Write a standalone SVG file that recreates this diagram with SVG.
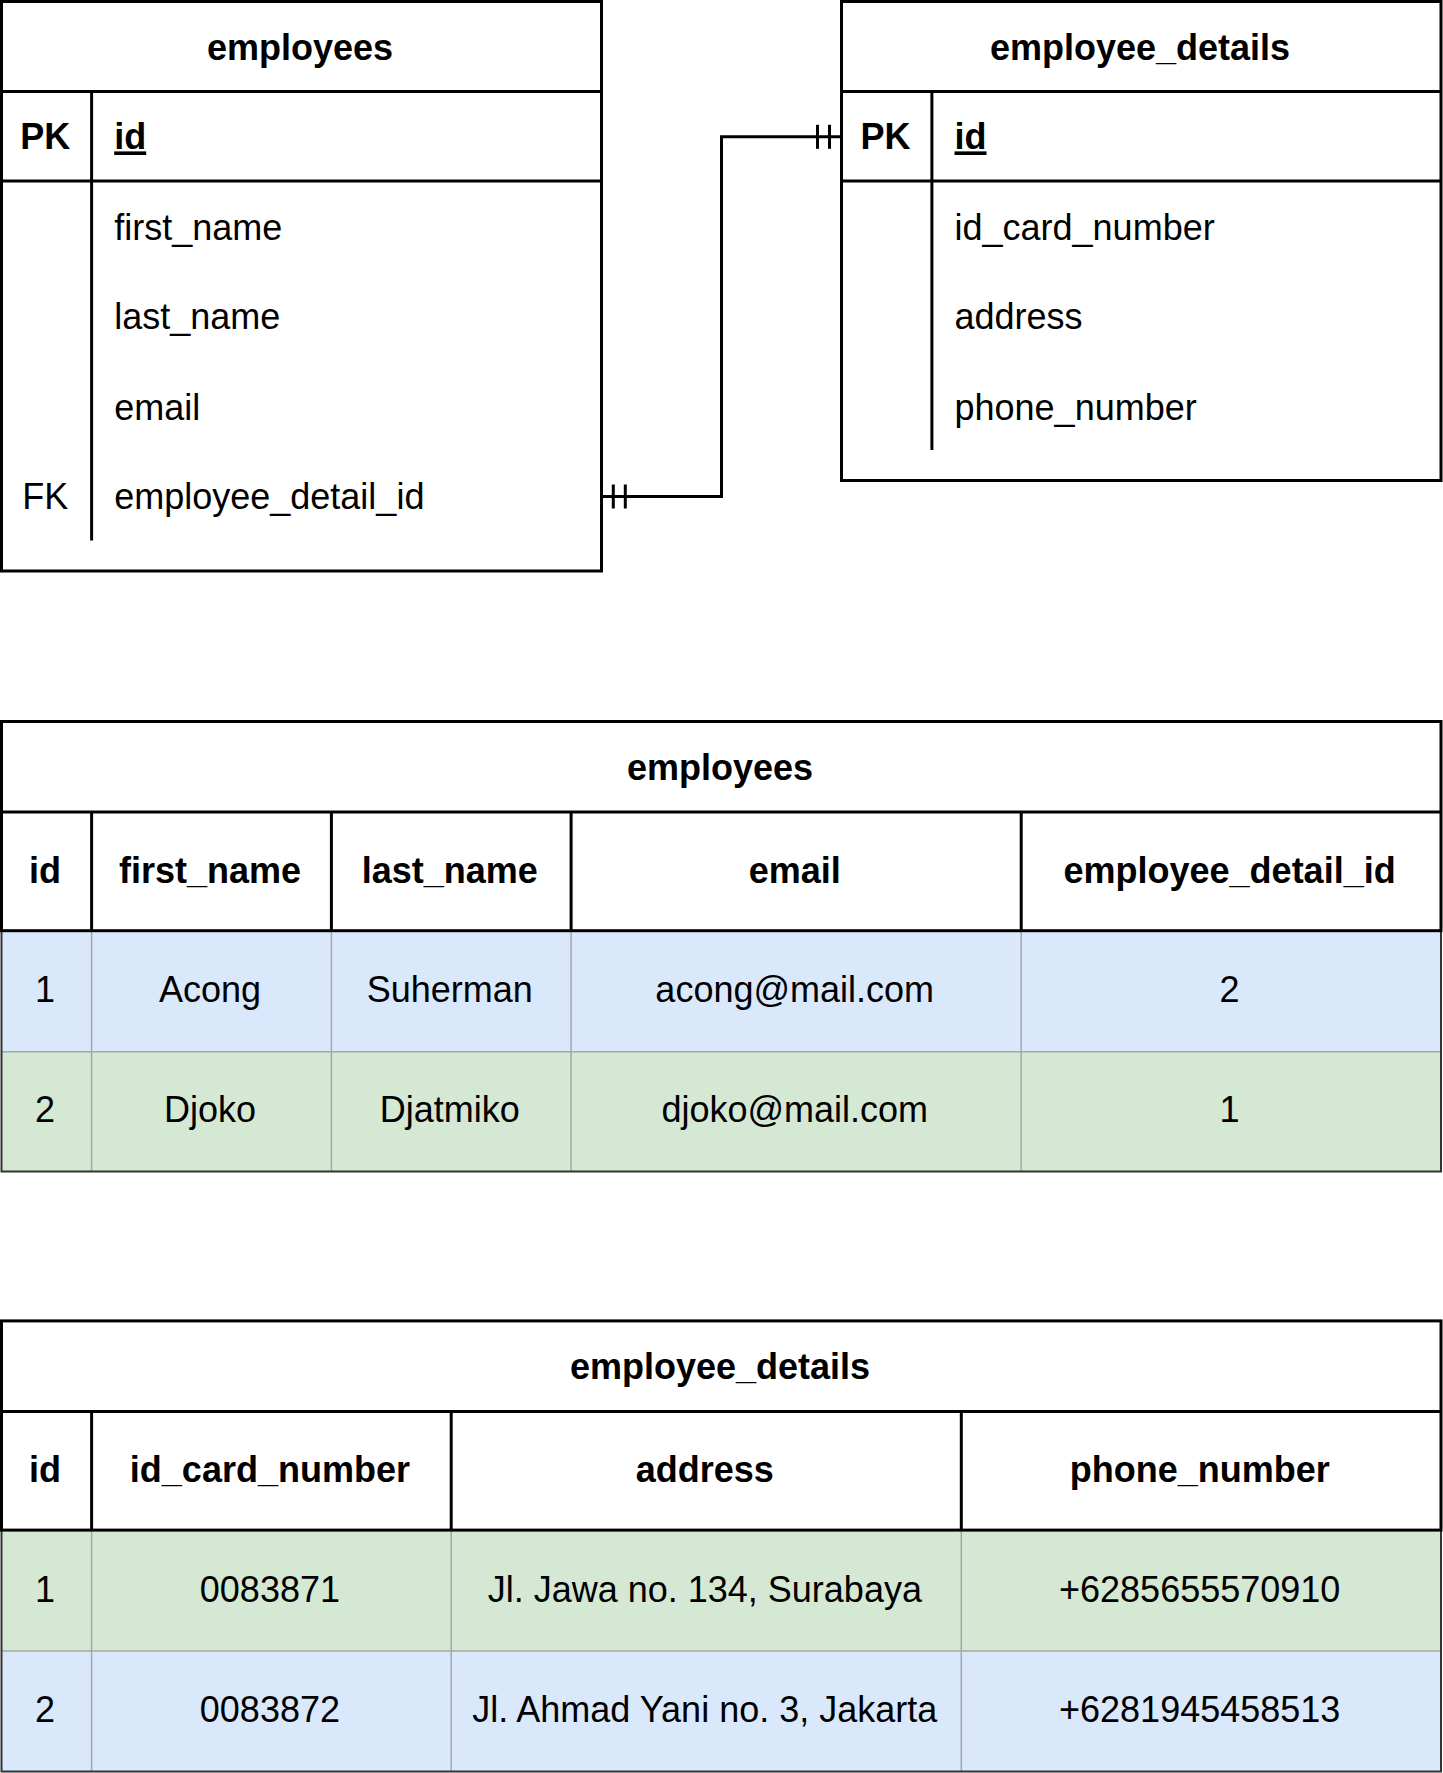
<svg xmlns="http://www.w3.org/2000/svg" width="1443" height="1773" viewBox="0 0 1443 1773">
<style>
text{font-family:"Liberation Sans",Arial,sans-serif;font-size:36px;fill:#000}
.b{font-weight:bold}
.c{text-anchor:middle}
.u{text-decoration:underline}
.box{fill:#fff;stroke:#000;stroke-width:3}
.ln{stroke:#000;stroke-width:3;fill:none}
.blue{fill:#dae8fc}
.green{fill:#d5e8d4}
.cell{stroke:#a6a6a6;stroke-width:1.5;fill:none}
.edge{stroke:#333;stroke-width:2;fill:none}
</style>

<g id="er-employees">
<rect class="box" x="1.5" y="1.5" width="600" height="569.5"/>
<line class="ln" x1="1.5" y1="91.6" x2="601.5" y2="91.6"/>
<line class="ln" x1="1.5" y1="181" x2="601.5" y2="181"/>
<line class="ln" x1="91.6" y1="91.6" x2="91.6" y2="540.6"/>
<text class="b c" x="300" y="60">employees</text>
<text class="b c" x="45.2" y="149.4">PK</text>
<text class="b u" x="114.2" y="149.4">id</text>
<text x="114.2" y="240">first_name</text>
<text x="114.2" y="329.3">last_name</text>
<text x="114.2" y="419.7">email</text>
<text class="c" x="45.2" y="509.1">FK</text>
<text x="114.2" y="509.1">employee_detail_id</text>
</g>

<g id="er-employee-details">
<rect class="box" x="841.5" y="1.5" width="599.5" height="479"/>
<line class="ln" x1="841.5" y1="91.6" x2="1441" y2="91.6"/>
<line class="ln" x1="841.5" y1="181" x2="1441" y2="181"/>
<line class="ln" x1="931.9" y1="91.6" x2="931.9" y2="450"/>
<text class="b c" x="1140" y="60">employee_details</text>
<text class="b c" x="885.5" y="149.4">PK</text>
<text class="b u" x="954.5" y="149.4">id</text>
<text x="954.5" y="240">id_card_number</text>
<text x="954.5" y="329.3">address</text>
<text x="954.5" y="419.7">phone_number</text>
</g>

<g id="connectors">
<path class="ln" d="M601.5 496.5 H721.5 V136.8 H841.5"/>
<line class="ln" x1="613.3" y1="484.5" x2="613.3" y2="508.5"/>
<line class="ln" x1="625.3" y1="484.5" x2="625.3" y2="508.5"/>
<line class="ln" x1="817.5" y1="124.8" x2="817.5" y2="148.8"/>
<line class="ln" x1="829.5" y1="124.8" x2="829.5" y2="148.8"/>
</g>

<g id="table-employees">
<rect class="blue" x="1.5" y="930.7" width="1439.5" height="121"/>
<rect class="green" x="1.5" y="1051.7" width="1439.5" height="119.9"/>
<path class="cell" d="M1.5 1051.7 H1441 M91.6 930.7 V1171.6 M331.4 930.7 V1171.6 M571.1 930.7 V1171.6 M1021.2 930.7 V1171.6"/>
<path class="edge" d="M1.5 930.7 V1171.6 H1441 V930.7"/>
<rect class="box" x="1.5" y="721.5" width="1439.5" height="209.2"/>
<line class="ln" x1="1.5" y1="812" x2="1441" y2="812"/>
<path class="ln" d="M91.6 812 V930.7 M331.4 812 V930.7 M571.1 812 V930.7 M1021.2 812 V930.7"/>
<text class="b c" x="720" y="779.8">employees</text>
<text class="b c" x="45" y="882.8">id</text>
<text class="b c" x="210" y="882.8">first_name</text>
<text class="b c" x="449.7" y="882.8">last_name</text>
<text class="b c" x="794.7" y="882.8">email</text>
<text class="b c" x="1229.6" y="882.8">employee_detail_id</text>
<text class="c" x="45" y="1001.6">1</text>
<text class="c" x="210" y="1001.6">Acong</text>
<text class="c" x="449.7" y="1001.6">Suherman</text>
<text class="c" x="794.7" y="1001.6">acong@mail.com</text>
<text class="c" x="1229.6" y="1001.6">2</text>
<text class="c" x="45" y="1122.1">2</text>
<text class="c" x="210" y="1122.1">Djoko</text>
<text class="c" x="449.7" y="1122.1">Djatmiko</text>
<text class="c" x="794.7" y="1122.1">djoko@mail.com</text>
<text class="c" x="1229.6" y="1122.1">1</text>
</g>

<g id="table-employee-details">
<rect class="green" x="1.5" y="1530.1" width="1439.5" height="121"/>
<rect class="blue" x="1.5" y="1651.1" width="1439.5" height="120.4"/>
<path class="cell" d="M1.5 1651.1 H1441 M91.6 1530.1 V1771.5 M451.2 1530.1 V1771.5 M961.3 1530.1 V1771.5"/>
<path class="edge" d="M1.5 1530.1 V1771.5 H1441 V1530.1"/>
<rect class="box" x="1.5" y="1320.9" width="1439.5" height="209.2"/>
<line class="ln" x1="1.5" y1="1411.4" x2="1441" y2="1411.4"/>
<path class="ln" d="M91.6 1411.4 V1530.1 M451.2 1411.4 V1530.1 M961.3 1411.4 V1530.1"/>
<text class="b c" x="720" y="1379.3">employee_details</text>
<text class="b c" x="45" y="1482.2">id</text>
<text class="b c" x="269.9" y="1482.2">id_card_number</text>
<text class="b c" x="704.8" y="1482.2">address</text>
<text class="b c" x="1199.7" y="1482.2">phone_number</text>
<text class="c" x="45" y="1601.5">1</text>
<text class="c" x="269.9" y="1601.5">0083871</text>
<text class="c" x="704.8" y="1601.5">Jl. Jawa no. 134, Surabaya</text>
<text class="c" x="1199.7" y="1601.5">+6285655570910</text>
<text class="c" x="45" y="1722">2</text>
<text class="c" x="269.9" y="1722">0083872</text>
<text class="c" x="704.8" y="1722">Jl. Ahmad Yani no. 3, Jakarta</text>
<text class="c" x="1199.7" y="1722">+6281945458513</text>
</g>
</svg>
